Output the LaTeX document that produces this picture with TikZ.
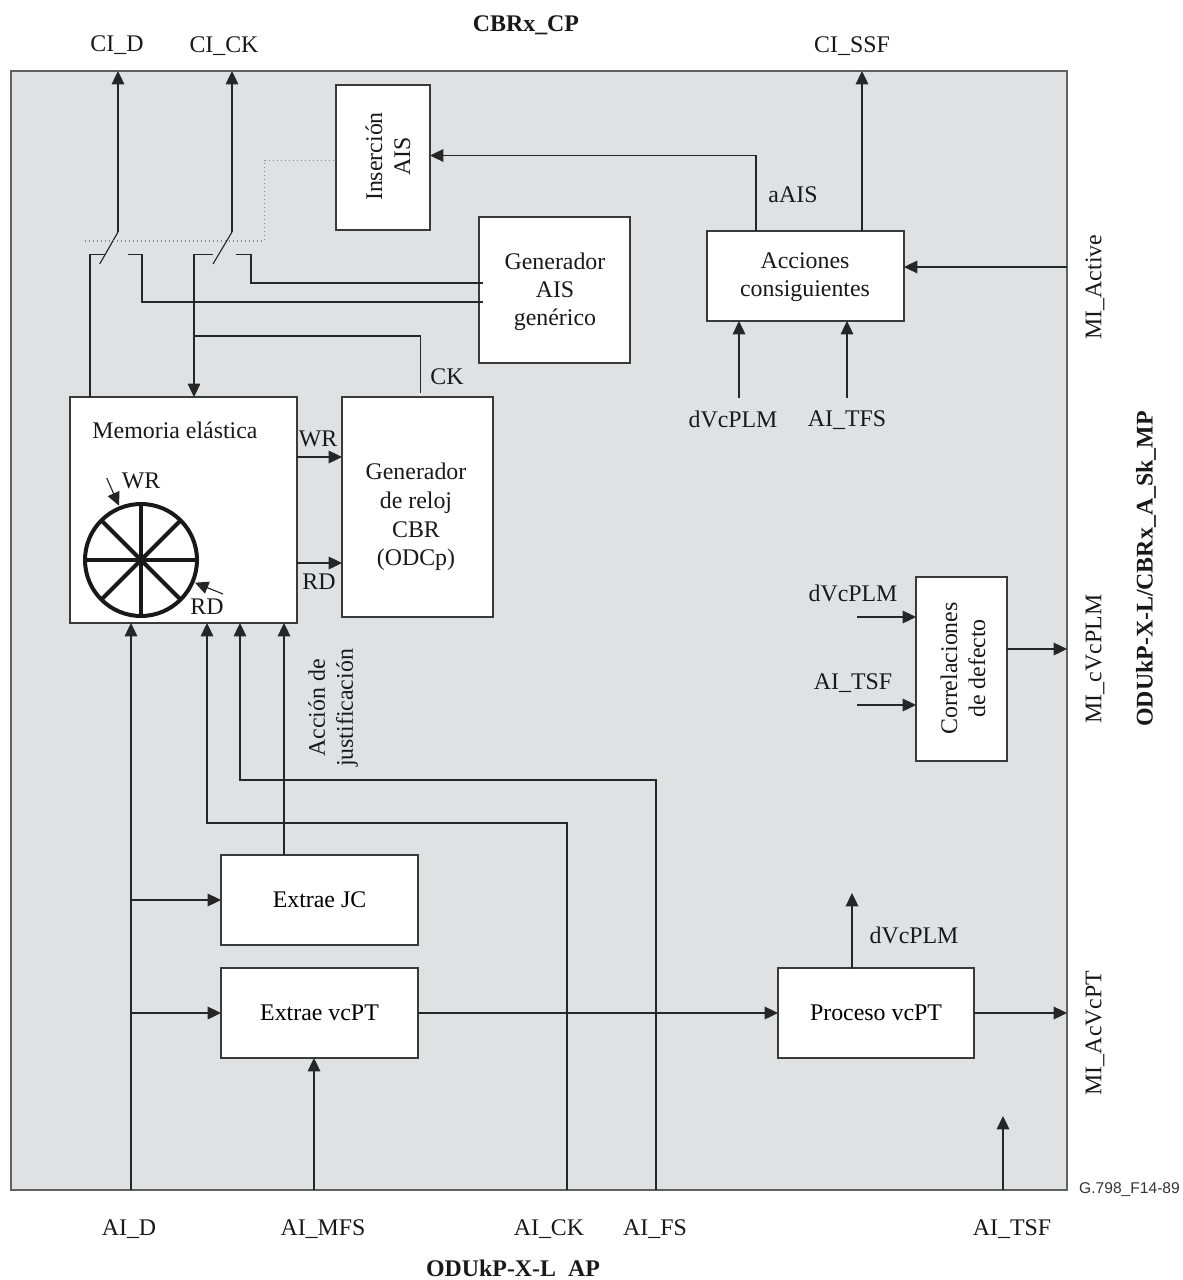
\documentclass[tikz,border=0pt]{standalone}
\usepackage{fontspec}
\setmainfont{Liberation Serif}
\newfontfamily\tagfont{Liberation Sans}
\usetikzlibrary{arrows.meta}
\definecolor{panel}{HTML}{E0E1E3}
\definecolor{edge}{HTML}{3A3A3A}
\definecolor{dots}{HTML}{8A8A8A}
\newcommand{\blockat}[6]{%
  \node[block,minimum width={(#4-#2)*0.75pt},minimum height={(#5-#3)*0.75pt}]
    (#1) at ({(#2+#4)/2},{(#3+#5)/2}) {#6};}
\tikzset{
  block/.style={draw=edge,fill=white,line width=1pt,inner sep=0pt,outer sep=0pt,align=center,
    font=\fontsize{17.9}{21}\selectfont},
  lab/.style={inner sep=0pt,align=center,text=black!90,font=\fontsize{17.9}{21}\selectfont},
  boldlab/.style={lab,font=\fontsize{17.9}{21}\selectfont\bfseries},
  wire/.style={draw=black!85,line width=0.85pt},
  flow/.style={wire,-{Triangle[length=10pt,width=9.5pt]}},
  ctl/.style={draw=dots,line width=1pt,dotted},
  spoke/.style={draw=black!90,line width=3pt},
}
\begin{document}
\begin{tikzpicture}[x=0.75pt,y=-0.75pt]
\useasboundingbox (0,0) rectangle (1182,1280);
% panel
\node[draw=edge!80,fill=panel,line width=1.2pt,inner sep=0pt,outer sep=0pt,
  minimum width={1056*0.75pt},minimum height={1119*0.75pt}] (panel) at (539,630.5) {};
% blocks
\blockat{ins}{336}{85}{430}{230}{}
\blockat{gen}{479}{217}{630}{363}{}
\blockat{acc}{707}{231}{904}{321}{}
\blockat{mem}{70}{397}{297}{623}{}
\blockat{clk}{342}{397}{493}{617}{}
\blockat{cor}{916}{577}{1007}{761}{}
\blockat{jc}{221}{855}{418}{945}{Extrae JC}
\blockat{evc}{221}{968}{418}{1058}{Extrae vcPT}
\blockat{pvc}{778}{968}{974}{1058}{Proceso vcPT}
% block texts placed off-centre
\node[lab,rotate=90] (tins) at (388,156.5) {Inserción\\AIS};
\node[lab,rotate=90] (tcor) at (963,668.5) {Correlaciones\\de defecto};
\node[lab] (tgen) at (555,292) {Generador\\AIS\\genérico};
\node[lab] (tacc) at (805,277.5) {Acciones\\consiguientes};
\node[lab,font=\fontsize{17.9}{21.4}\selectfont] (tclk) at (416,517) {Generador\\de reloj\\CBR\\(ODCp)};
% outer labels
\node[boldlab] (tcp) at (526,25.5) {CBRx\_CP};
\node[boldlab] (tap) at (513,1268.5) {ODUkP-X-L\ \ AP};
\node[lab] (cid) at (117,45) {CI\_D};
\node[lab] (cick) at (224,46) {CI\_CK};
\node[lab] (cissf) at (852,46) {CI\_SSF};
\node[lab,rotate=90] (mact) at (1095,287) {MI\_Active};
\node[boldlab,rotate=90] (tmp) at (1146,569) {ODUkP-X-L/CBRx\_A\_Sk\_MP};
\node[lab,rotate=90] (mcv) at (1095,659) {MI\_cVcPLM};
\node[lab,rotate=90] (mav) at (1095,1033) {MI\_AcVcPT};
\node[inner sep=0pt,font=\tagfont\fontsize{11.7}{13}\selectfont,text=black!80] (tag) at (1129.5,1190) {G.798\_F14-89};
\node[lab] (aid) at (129,1229) {AI\_D};
\node[lab] (aimfs) at (323,1229) {AI\_MFS};
\node[lab] (aick) at (549,1229) {AI\_CK};
\node[lab] (aifs) at (655,1229) {AI\_FS};
\node[lab] (aitsf) at (1012,1229) {AI\_TSF};
% inner labels
\node[lab] (laais) at (793,195) {aAIS};
\node[lab] (ldv1) at (733,419) {dVcPLM};
\node[lab] (ltfs) at (847,420) {AI\_TFS};
\node[lab] (lck) at (447,377) {CK};
\node[lab] (lwr) at (318,439) {WR};
\node[lab] (lrd) at (319,582) {RD};
\node[lab] (lmem) at (175,430) {Memoria elástica};
\node[lab] (lwr2) at (141,481) {WR};
\node[lab] (lrd2) at (207,607) {RD};
\node[lab] (ldv2) at (853,593) {dVcPLM};
\node[lab] (ltsf) at (853,683) {AI\_TSF};
\node[lab] (ldv3) at (914,935) {dVcPLM};
\node[lab,rotate=90] (ljus) at (333,708) {Acción de\\justificación};
% free ends
\coordinate (s1top) at (118,232);
\coordinate (s1blade) at (99.7,264);
\coordinate (s2top) at (232,232);
\coordinate (s2blade) at (213,264);
\coordinate (s1l) at (105,254.5);
\coordinate (s1r) at (127.5,254.5);
\coordinate (s2l) at (212.5,254.5);
\coordinate (s2r) at (236,254.5);
\coordinate (g1) at (482.5,302);
\coordinate (g2) at (482.5,283);
\coordinate (ckend) at (420.5,392.5);
\coordinate (cka) at (194,336);
\coordinate (ckb) at (420.5,336);
\coordinate (d0) at (85,241);
\coordinate (d1) at (264.5,241);
\coordinate (d2) at (264.5,160.5);
\coordinate (d3) at (334,160.5);
\coordinate (a0) at (756,155.5);
\coordinate (dvs) at (739,398);
\coordinate (tfs) at (847,398);
\coordinate (actin) at (1067,267);
\coordinate (ssfx) at (862,231);
\coordinate (aaisx) at (756,231);
\coordinate (pd) at (131,1190);
\coordinate (pmfs) at (314,1190);
\coordinate (pck) at (567,1190);
\coordinate (pfs) at (656,1190);
\coordinate (ptsf) at (1003,1190);
\coordinate (ptsfe) at (1003,1116);
\coordinate (pvtop) at (852,893);
\coordinate (ckt) at (207,823);
\coordinate (fst) at (240,780);
\coordinate (jcx) at (284,855);
\coordinate (bjc) at (131,900);
\coordinate (bev) at (131,1013);
\coordinate (dv2s) at (857,617);
\coordinate (tsfs) at (857,705);
\coordinate (cvo) at (1007,649);
\coordinate (wry) at (297,457);
\coordinate (rdy) at (297,563);
\coordinate (wp1) at (106.7,478);
\coordinate (wp2) at (119,505.7);
\coordinate (rp1) at (223,594);
\coordinate (rp2) at (195,582.7);
% connectors: outputs
\draw[flow] (s1top) -- (s1top |- panel.north);
\draw[flow] (s2top) -- (s2top |- panel.north);
\draw[wire] (s1top) -- (s1blade);
\draw[wire] (s2top) -- (s2blade);
\draw[wire] (mem.north -| 90,0) -- (90,254.5) -- (s1l);
\draw[wire] (s1r) -- (142,254.5) -- (142,302) -- (g1);
\draw[flow] (s2l) -- (194,254.5) -- (mem.north -| cka);
\draw[wire] (s2r) -- (251,254.5) -- (251,283) -- (g2);
\draw[wire] (cka) -- (ckb) -- (ckend);
\draw[ctl] (d0) -- (d1) -- (d2) -- (d3);
\draw[flow] (aaisx) -- (a0) -- (ins.east |- a0);
\draw[flow] (ssfx) -- (ssfx |- panel.north);
\draw[flow] (actin) -- (acc.east |- actin);
\draw[flow] (dvs) -- (acc.south -| dvs);
\draw[flow] (tfs) -- (acc.south -| tfs);
% memory to clock
\draw[flow] (wry) -- (clk.west |- wry);
\draw[flow] (rdy) -- (clk.west |- rdy);
% bottom inputs
\draw[flow] (pd) -- (mem.south -| pd);
\draw[flow] (pck) -- (pck |- ckt) -- (ckt) -- (mem.south -| ckt);
\draw[flow] (pfs) -- (pfs |- fst) -- (fst) -- (mem.south -| fst);
\draw[flow] (jcx) -- (mem.south -| jcx);
\draw[flow] (bjc) -- (jc.west |- bjc);
\draw[flow] (bev) -- (evc.west |- bev);
\draw[flow] (pmfs) -- (evc.south -| pmfs);
\draw[flow] (evc.east |- bev) -- (pvc.west |- bev);
\draw[flow] (pvc.east |- bev) -- (panel.east |- bev);
\draw[flow] (pvc.north -| pvtop) -- (pvtop);
\draw[flow] (ptsf) -- (ptsfe);
% correlations
\draw[flow] (dv2s) -- (cor.west |- dv2s);
\draw[flow] (tsfs) -- (cor.west |- tsfs);
\draw[flow] (cvo) -- (panel.east |- cvo);
% wheel
\node[circle,draw=black!90,line width=3pt,fill=white,inner sep=0pt,outer sep=0pt,minimum size={112*0.75pt}] (wheel) at (141,560) {};
\draw[spoke] (wheel.north) -- (wheel.south);
\draw[spoke] (wheel.west) -- (wheel.east);
\draw[spoke] (wheel.north west) -- (wheel.south east);
\draw[spoke] (wheel.north east) -- (wheel.south west);
\draw[flow] (wp1) -- (wp2);
\draw[flow] (rp1) -- (rp2);
\end{tikzpicture}
\end{document}
